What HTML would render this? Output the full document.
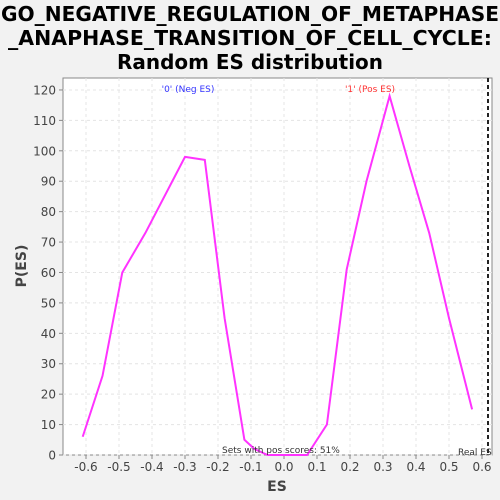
<!DOCTYPE html>
<html><head><meta charset="utf-8"><style>
body{margin:0;background:#f2f2f2;font-family:"DejaVu Sans",sans-serif;overflow:hidden}
svg{display:block}
</style></head><body>
<svg id="chart" width="500" height="500" xmlns="http://www.w3.org/2000/svg" font-family="DejaVu Sans, Liberation Sans, sans-serif">
<rect width="500" height="500" fill="#f2f2f2"/>
<text x="250" y="21" text-anchor="middle" font-size="20" font-weight="bold" textLength="498" lengthAdjust="spacingAndGlyphs">GO_NEGATIVE_REGULATION_OF_METAPHASE</text>
<text x="250" y="45" text-anchor="middle" font-size="20" font-weight="bold" textLength="484" lengthAdjust="spacingAndGlyphs">_ANAPHASE_TRANSITION_OF_CELL_CYCLE:</text>
<text x="250" y="69" text-anchor="middle" font-size="20" font-weight="bold" textLength="266" lengthAdjust="spacingAndGlyphs">Random ES distribution</text>
<rect x="63" y="78" width="429" height="377" fill="#fff" stroke="#888"/>
<g id="grid"></g><g id="axes"></g>
<polyline id="line" fill="none" stroke="#ff33ff" stroke-width="2"/>
<line x1="488" x2="488" y1="78" y2="455" stroke="#222" stroke-width="2" stroke-dasharray="4,3"/>
<text x="458" y="455" font-size="9" fill="#333">Real ES</text>
<text x="188" y="92" text-anchor="middle" font-size="9" fill="#3333ff">'0' (Neg ES)</text>
<text x="370" y="92" text-anchor="middle" font-size="9" fill="#ff3333">'1' (Pos ES)</text>
<text x="222" y="453" font-size="9" fill="#333">Sets with pos scores: 51%</text>
<text x="277" y="491" text-anchor="middle" font-size="14" font-weight="bold" fill="#444">ES</text>
<text transform="translate(26,266) rotate(-90)" text-anchor="middle" font-size="14" font-weight="bold" fill="#444">P(ES)</text>
</svg>
<script>
const esValues=[-0.61,-0.55,-0.49,-0.42,-0.30,-0.24,-0.18,-0.12,-0.09,-0.05,0.0,0.07,0.13,0.19,0.25,0.32,0.38,0.44,0.50,0.57];
const pValues=[6,26,60,73,98,97,45,5,2,0,0,0,10,61,90,118,95,73,45,15];
const xTicks=[-0.6,-0.5,-0.4,-0.3,-0.2,-0.1,0.0,0.1,0.2,0.3,0.4,0.5,0.6];
const yTicks=[0,10,20,30,40,50,60,70,80,90,100,110,120];
const X=v=>284+v*330, Y=v=>455-v*3.042;
const NS="http://www.w3.org/2000/svg";
const grid=document.getElementById('grid'),axes=document.getElementById('axes');
function mk(t,a,p){const e=document.createElementNS(NS,t);for(const k in a)e.setAttribute(k,a[k]);p.appendChild(e);return e;}
xTicks.forEach(t=>{
 const g=mk('line',{x1:X(t),x2:X(t),y1:78,y2:455,stroke:'#e4e4e4','stroke-dasharray':'3,3'},grid);
 
 
 const tk=mk('line',{x1:X(t),x2:X(t),y1:455,y2:459,stroke:'#888'},axes);
 
 
 const l=mk('text',{x:X(t),y:471,'text-anchor':'middle','font-size':12,fill:'#444'},axes);
 l.textContent=t.toFixed(1);
 
 
});
yTicks.forEach(t=>{
 const g=mk('line',{x1:63,x2:492,y1:Y(t),y2:Y(t),stroke:'#e4e4e4','stroke-dasharray':'3,3'},grid);
 
 
 const tk=mk('line',{x1:59,x2:63,y1:Y(t),y2:Y(t),stroke:'#888'},axes);
 
 
 const l=mk('text',{x:56,y:Y(t)+4.5,'text-anchor':'end','font-size':12,fill:'#444'},axes);
 l.textContent=t;
 
 
});
document.getElementById('line').setAttribute('points',esValues.map((v,i)=>X(v)+','+Y(pValues[i])).join(' '));
</script>
</body></html>
